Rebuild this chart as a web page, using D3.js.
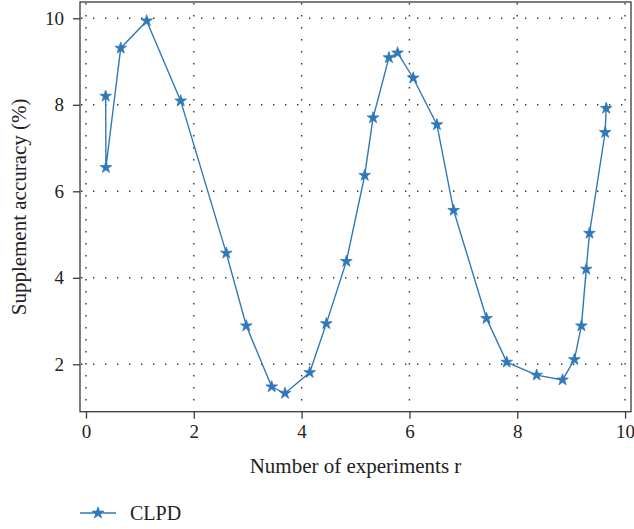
<!DOCTYPE html>
<html>
<head>
<meta charset="utf-8">
<script src="https://cdn.jsdelivr.net/npm/d3@7"></script>
<style>
  html, body { margin: 0; padding: 0; background: #fff; }
  svg { display: block; }
  text { font-family: "Liberation Serif", "Times New Roman", serif; fill: #222; }
</style>
</head>
<body>
<svg id="chart" width="634" height="529"></svg>
<script>
// Supplement accuracy of CLPD against number of experiments r
const seriesName = "CLPD";
const experimentsR = [0.365, 0.37, 0.644, 1.126, 1.757, 2.603, 2.974, 3.445, 3.692, 4.15,
  4.458, 4.83, 5.17, 5.325, 5.62, 5.78, 6.07, 6.51, 6.82, 7.43,
  7.805, 8.36, 8.84, 9.06, 9.19, 9.28, 9.34, 9.63, 9.65];
const accuracy = [8.20, 6.55, 9.31, 9.94, 8.09, 4.57, 2.89, 1.48, 1.33, 1.81,
  2.94, 4.38, 6.37, 7.70, 9.09, 9.20, 8.62, 7.54, 5.56, 3.06,
  2.05, 1.75, 1.64, 2.11, 2.89, 4.20, 5.03, 7.36, 7.92];
const xTicks = [0, 2, 4, 6, 8, 10];
const yTicks = [2, 4, 6, 8, 10];
const xTitle = "Number of experiments r";
const yTitle = "Supplement accuracy (%)";

const blue = "#2f78b9";
const frameColor = "#3a3a3a";
const box = { left: 80, top: 2, right: 631, bottom: 411.7 };

const svg = d3.select("#chart");

const x = d3.scaleLinear().domain([-0.111, 10.11]).range([box.left, box.right]);
const y = d3.scaleLinear().domain([0.904, 10.377]).range([box.bottom, box.top]);

// dotted grid
const grid = svg.append("g").attr("stroke", "#333").attr("stroke-width", 1.4)
  .attr("stroke-dasharray", "1.4,10.6");
grid.selectAll("line.v").data(xTicks).join("line").attr("class", "v")
  .attr("x1", d => x(d)).attr("x2", d => x(d))
  .attr("y1", box.top + 1).attr("y2", box.bottom);
grid.selectAll("line.h").data(yTicks).join("line").attr("class", "h")
  .attr("y1", d => y(d)).attr("y2", d => y(d))
  .attr("x1", box.left + 1).attr("x2", box.right);

// axes
const xAxis = svg.append("g").attr("transform", `translate(0,${box.bottom})`)
  .call(d3.axisBottom(x).tickValues(xTicks).tickSize(7).tickSizeOuter(0).tickPadding(6));
const yAxis = svg.append("g").attr("transform", `translate(${box.left},0)`)
  .call(d3.axisLeft(y).tickValues(yTicks).tickSize(7).tickSizeOuter(0).tickPadding(9));
[xAxis, yAxis].forEach(g => {
  g.select(".domain").remove();
  g.selectAll(".tick line").attr("stroke", frameColor).attr("stroke-width", 1.3);
  g.selectAll(".tick text").attr("font-family", "Liberation Serif").attr("font-size", 19).attr("fill", "#222");
});

// frame
svg.append("rect")
  .attr("x", box.left).attr("y", box.top)
  .attr("width", box.right - box.left).attr("height", box.bottom - box.top)
  .attr("fill", "none").attr("stroke", frameColor).attr("stroke-width", 1.3);

// axis titles
svg.append("text").attr("x", (box.left + box.right) / 2).attr("y", 473)
  .attr("text-anchor", "middle").attr("font-size", 21).text(xTitle);
svg.append("text").attr("transform", `translate(26,${(box.top + box.bottom) / 2}) rotate(-90)`)
  .attr("text-anchor", "middle").attr("font-size", 21).text(yTitle);

// series
const pts = experimentsR.map((r, i) => [r, accuracy[i]]);
svg.append("path").datum(pts)
  .attr("fill", "none").attr("stroke", blue).attr("stroke-width", 1.4)
  .attr("d", d3.line().x(d => x(d[0])).y(d => y(d[1])));

const star = d3.symbol().type(d3.symbolStar).size(42);
svg.append("g").selectAll("path").data(pts).join("path")
  .attr("transform", d => `translate(${x(d[0])},${y(d[1])})`)
  .attr("d", star).attr("fill", blue).attr("stroke", blue).attr("stroke-width", 0.8);

// legend
const lg = svg.append("g").attr("transform", "translate(80,513)");
lg.append("line").attr("x1", 0).attr("x2", 36).attr("y1", 0).attr("y2", 0)
  .attr("stroke", blue).attr("stroke-width", 1.4);
lg.append("path").attr("transform", "translate(18,0)").attr("d", star)
  .attr("fill", blue).attr("stroke", blue).attr("stroke-width", 0.8);
lg.append("text").attr("x", 50).attr("y", 6.5).attr("font-size", 20).text(seriesName);
</script>
</body>
</html>
